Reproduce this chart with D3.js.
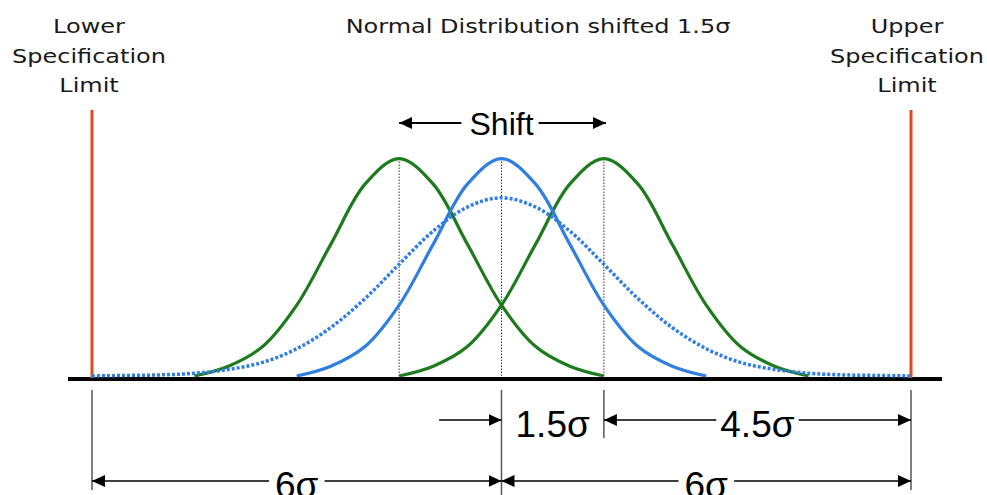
<!DOCTYPE html>
<html>
<head>
<meta charset="utf-8">
<script src="https://cdn.jsdelivr.net/npm/d3@7"></script>
<style>
  html, body { margin: 0; padding: 0; background: #fff; }
  svg { display: block; }
</style>
</head>
<body>
<div id="chart"></div>
<script>
// process centres (in sigma units) and curve profiles
const title = 'Normal Distribution shifted 1.5σ';
const lslLines = ['Lower', 'Specification', 'Limit'];
const uslLines = ['Upper', 'Specification', 'Limit'];
const specLimits = [-6, 6];
const shiftedCenters = [-1.5, 1.5];
const nominalCenter = 0;

// solid curve: height vs offset from its own centre
const solidOffsets = [-3, -2.5, -2, -1.5, -1, -0.5, 0, 0.5, 1, 1.5, 2, 2.5, 3];
const solidHeights = [0, 0.018, 0.054, 0.130, 0.242, 0.352, 0.399, 0.352, 0.242, 0.130, 0.054, 0.018, 0];

// wide dotted curve around the nominal centre
const dottedOffsets = [-6, -5.5, -5, -4.5, -4, -3.5, -3, -2.5, -2, -1.5, -1, -0.5, 0, 0.5, 1, 1.5, 2, 2.5, 3, 3.5, 4, 4.5, 5, 5.5, 6];
const dottedHeights = [0, 0.001, 0.002, 0.005, 0.012, 0.025, 0.050, 0.089, 0.142, 0.205, 0.266, 0.310, 0.327, 0.310, 0.266, 0.205, 0.142, 0.089, 0.050, 0.025, 0.012, 0.005, 0.002, 0.001, 0];

// dimension annotations: [from, to, label]
const dimRow1 = [[-1.5, 0, null], [0, 1.5, '1.5σ'], [1.5, 6, '4.5σ']];
const dimRow2 = [[-6, 0, '6σ'], [0, 6, '6σ']];

const W = 987, H = 495;
const C = { green: '#1d7a1d', blue: '#2f7ee0', red: '#e8461e', dim: '#555' };

const svg = d3.select('#chart').append('svg').attr('width', W).attr('height', H);

const x = d3.scaleLinear().domain([-6, 6]).range([92, 911]);
const y = d3.scaleLinear().domain([0, 0.4]).range([376, 158]);

const defs = svg.append('defs');
defs.append('marker').attr('id', 'ah')
  .attr('viewBox', '0 0 13 12').attr('refX', 13).attr('refY', 6)
  .attr('markerWidth', 13).attr('markerHeight', 12).attr('markerUnits', 'userSpaceOnUse')
  .attr('orient', 'auto-start-reverse')
  .append('path').attr('d', 'M0,0L13,6L0,12Z').attr('fill', '#000');

// header labels (the source text is stretched horizontally)
function stretchedLines(lines, cx, y0) {
  lines.forEach((t, i) => {
    svg.append('text')
      .attr('transform', `translate(${cx},${y0 + i * 29.5}) scale(1.2,1)`)
      .attr('text-anchor', 'middle')
      .attr('font-family', 'DejaVu Sans, Verdana, sans-serif')
      .attr('font-size', 20).attr('fill', '#1a1a1a')
      .text(t);
  });
}
stretchedLines(lslLines, 89, 33);
stretchedLines(uslLines, 907, 33);
stretchedLines([title], 538, 33);

// baseline (drawn first, the curves sit on it)
svg.append('line')
  .attr('x1', 68).attr('x2', 942).attr('y1', 379).attr('y2', 379)
  .attr('stroke', '#000').attr('stroke-width', 4);

// spec limit lines
svg.selectAll('line.spec').data(specLimits).enter().append('line')
  .attr('class', 'spec')
  .attr('x1', d => x(d)).attr('x2', d => x(d))
  .attr('y1', 110).attr('y2', 378)
  .attr('stroke', C.red).attr('stroke-width', 3);

// dotted verticals at the curve centres
const allCenters = [shiftedCenters[0], nominalCenter, shiftedCenters[1]];
svg.selectAll('line.ctr').data(allCenters).enter().append('line')
  .attr('class', 'ctr')
  .attr('x1', d => x(d)).attr('x2', d => x(d))
  .attr('y1', y(0.399)).attr('y2', y(0))
  .attr('stroke', '#333').attr('stroke-width', 1).attr('stroke-dasharray', '1.5,1.5');

const line = d3.line().curve(d3.curveCatmullRom.alpha(0.5));
function curvePts(center, offs, hs) {
  return offs.map((o, i) => [x(center + o), y(hs[i])]);
}

// shifted (green) curves
shiftedCenters.forEach(c => {
  svg.append('path')
    .attr('d', line(curvePts(c, solidOffsets, solidHeights)))
    .attr('fill', 'none').attr('stroke', C.green).attr('stroke-width', 3.2);
});

// nominal (blue) curve
svg.append('path')
  .attr('d', line(curvePts(nominalCenter, solidOffsets, solidHeights)))
  .attr('fill', 'none').attr('stroke', C.blue).attr('stroke-width', 3.2);

// wide dotted curve
svg.append('path')
  .attr('d', line(curvePts(nominalCenter, dottedOffsets, dottedHeights)))
  .attr('fill', 'none').attr('stroke', C.blue).attr('stroke-width', 3.5)
  .attr('stroke-dasharray', '3,2');

// shift arrow
const shiftY = 123;
svg.append('line').attr('x1', x(-0.5) - 6).attr('x2', x(-1.5)).attr('y1', shiftY).attr('y2', shiftY)
  .attr('stroke', '#000').attr('stroke-width', 2).attr('marker-end', 'url(#ah)');
svg.append('line').attr('x1', x(0.5) + 3).attr('x2', x(1.5) + 2).attr('y1', shiftY).attr('y2', shiftY)
  .attr('stroke', '#000').attr('stroke-width', 2).attr('marker-end', 'url(#ah)');
svg.append('text').attr('x', x(0)).attr('y', shiftY + 12)
  .attr('text-anchor', 'middle').attr('font-family', 'Liberation Sans, Arial, sans-serif')
  .attr('font-size', 32).attr('fill', '#000').text('Shift');

// extension lines under the axis
const ext = [[-6, 490], [0, 495], [1.5, 438], [6, 490]];
svg.selectAll('line.ext').data(ext).enter().append('line')
  .attr('class', 'ext')
  .attr('x1', d => x(d[0])).attr('x2', d => x(d[0]))
  .attr('y1', 390).attr('y2', d => d[1])
  .attr('stroke', C.dim).attr('stroke-width', 1.5);

// dimension rows
function dimension(a, b, label, yy, gap) {
  const xa = x(a), xb = x(b);
  const font = 'Liberation Sans, Arial, sans-serif';
  if (!label) {
    svg.append('line').attr('x1', xa + 40).attr('x2', xb).attr('y1', yy).attr('y2', yy)
      .attr('stroke', '#000').attr('stroke-width', 1.5).attr('marker-end', 'url(#ah)');
    return;
  }
  const t = svg.append('text').attr('x', (xa + xb) / 2).attr('y', yy + 17)
    .attr('text-anchor', 'middle').attr('font-family', font)
    .attr('font-size', 37).attr('fill', '#000').text(label);
  const bb = t.node().getBBox();
  svg.append('line').attr('x1', bb.x - gap).attr('x2', xa).attr('y1', yy).attr('y2', yy)
    .attr('stroke', '#000').attr('stroke-width', 1.5).attr('marker-end', 'url(#ah)');
  svg.append('line').attr('x1', bb.x + bb.width + gap).attr('x2', xb).attr('y1', yy).attr('y2', yy)
    .attr('stroke', '#000').attr('stroke-width', 1.5).attr('marker-end', 'url(#ah)');
}
dimRow1.forEach(d => {
  if (d[2] === '1.5σ') {
    // label sits between the extension lines, no arrows inside
    svg.append('text').attr('x', (x(d[0]) + x(d[1])) / 2).attr('y', 437)
      .attr('text-anchor', 'middle').attr('font-family', 'Liberation Sans, Arial, sans-serif')
      .attr('font-size', 37).attr('fill', '#000').text(d[2]);
  } else {
    dimension(d[0], d[1], d[2], 420, 4);
  }
});
dimRow2.forEach(d => dimension(d[0], d[1], d[2], 481, 6));
</script>
</body>
</html>
